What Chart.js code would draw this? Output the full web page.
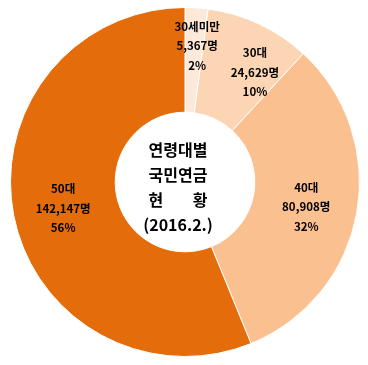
<!DOCTYPE html>
<html>
<head>
<meta charset="utf-8">
<script src="https://cdn.jsdelivr.net/npm/chart.js@4"></script>
<style>
  html, body { margin: 0; padding: 0; background: #ffffff; }
  canvas { display: block; }
</style>
</head>
<body>
<canvas id="c" width="368" height="365"></canvas>
<script>
// ---- data ----
const categories = ['30세미만', '30대', '40대', '50대'];
const values = [5367, 24629, 80908, 142147];
const centerTitle = ['연령대별', '국민연금', '현황', '(2016.2.)'];

// ---- style ----
const colors = ['#FDE9D9', '#FCD5B4', '#FAC090', '#E46C0A'];
const labelNudge = [[4, -14], [18, 1], [1, 3], [-2, 3]];
const FONT = "'Noto Sans CJK KR', 'Noto Sans', sans-serif";

const total = values.reduce((a, b) => a + b, 0);

const labelPlugin = {
  id: 'labels',
  afterDatasetsDraw(chart) {
    const ctx = chart.ctx;
    const meta = chart.getDatasetMeta(0);
    ctx.save();
    ctx.fillStyle = '#000000';
    ctx.textAlign = 'center';
    ctx.textBaseline = 'middle';
    ctx.font = 'bold 11.5px ' + FONT;
    meta.data.forEach((arc, i) => {
      const p = arc.tooltipPosition();
      const x = p.x + labelNudge[i][0];
      const y = p.y + labelNudge[i][1];
      const pct = Math.round(values[i] / total * 100) + '%';
      const lines = [categories[i], values[i].toLocaleString('en-US') + '명', pct];
      const step = 19.5;
      lines.forEach((t, k) => ctx.fillText(t, x, y + (k - 1) * step));
    });
    // center title
    const a = meta.data[0];
    const cx = a.x - 7, cy = a.y + 5.5;
    ctx.font = 'bold 16px ' + FONT;
    const w = ctx.measureText(centerTitle[0]).width;
    const step = 25;
    const y0 = cy - 1.5 * step;
    ctx.fillText(centerTitle[0], cx, y0);
    ctx.fillText(centerTitle[1], cx, y0 + step);
    const chars = Array.from(centerTitle[2]);
    ctx.textAlign = 'left';
    ctx.fillText(chars[0], cx - w / 2, y0 + 2 * step);
    ctx.textAlign = 'right';
    ctx.fillText(chars[1], cx + w / 2, y0 + 2 * step);
    ctx.textAlign = 'center';
    ctx.fillText(centerTitle[3], cx, y0 + 3 * step);
    ctx.restore();
  }
};

new Chart(document.getElementById('c'), {
  type: 'doughnut',
  data: {
    labels: categories,
    datasets: [{
      data: values,
      backgroundColor: colors,
      borderColor: '#ffffff',
      borderWidth: 1
    }]
  },
  options: {
    responsive: false,
    animation: false,
    cutout: '40%',
    rotation: 0,
    layout: { padding: { left: 10, right: 8, top: 7, bottom: 8 } },
    plugins: {
      legend: { display: false },
      tooltip: { enabled: false }
    }
  },
  plugins: [labelPlugin]
});
</script>
</body>
</html>
